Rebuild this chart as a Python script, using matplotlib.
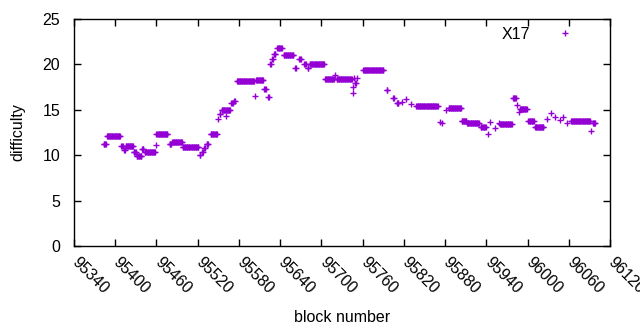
import numpy as np
import matplotlib
matplotlib.use("Agg")
import matplotlib.pyplot as plt
import matplotlib.transforms as mtransforms

# difficulty per block, stored as runs of equal value (first block, last block, value)
run_start = [95383, 95388, 95409, 95413, 95415, 95427, 95431, 95439, 95443, 95459,
             95460, 95479, 95483, 95498, 95523, 95526, 95529, 95533, 95539, 95550,
             95552, 95555, 95561, 95569, 95573, 95577, 95603, 95605, 95617, 95623,
             95625, 95628, 95631, 95636, 95645, 95662, 95668, 95675, 95680, 95683,
             95705, 95720, 95722, 95746, 95746, 95748, 95749, 95752, 95761, 95795,
             95804, 95810, 95817, 95823, 95830, 95838, 95873, 95876, 95882, 95885,
             95904, 95912, 95932, 95943, 95946, 95953, 95958, 95960, 95979, 95984,
             95988, 95989, 96001, 96011, 96028, 96034, 96040, 96047, 96052, 96058,
             96063, 96092, 96095]
run_end = [95386, 95407, 95411, 95414, 95426, 95430, 95438, 95441, 95458, 95459,
           95476, 95481, 95497, 95521, 95524, 95527, 95530, 95535, 95548, 95550,
           95553, 95567, 95561, 95571, 95574, 95602, 95603, 95615, 95619, 95624,
           95626, 95629, 95633, 95642, 95659, 95663, 95670, 95677, 95681, 95704,
           95718, 95720, 95744, 95746, 95746, 95748, 95750, 95752, 95790, 95796,
           95805, 95812, 95817, 95823, 95830, 95869, 95873, 95876, 95882, 95903,
           95911, 95929, 95939, 95943, 95946, 95953, 95958, 95977, 95983, 95984,
           95988, 95999, 96009, 96023, 96028, 96034, 96040, 96047, 96052, 96058,
           96091, 96092, 96098]
run_value = [11.2, 12.1, 11.0, 10.6, 11.0, 10.3, 9.9, 10.7, 10.35, 11.1,
             12.3, 11.2, 11.45, 10.9, 10.0, 10.3, 10.75, 11.2, 12.35, 13.95,
             14.5, 15.0, 14.3, 15.7, 15.95, 18.2, 16.5, 18.25, 17.25, 16.45,
             20.05, 20.55, 21.15, 21.8, 21.05, 19.6, 20.6, 20.0, 19.6, 20.05,
             18.35, 18.85, 18.35, 17.5, 16.8, 18.45, 17.9, 18.45, 19.4, 17.2,
             16.3, 15.7, 15.9, 16.15, 15.6, 15.42, 13.7, 13.5, 15.0, 15.16,
             13.75, 13.5, 13.15, 12.3, 13.7, 12.95, 13.5, 13.4, 16.25, 15.5,
             14.8, 15.05, 13.8, 13.15, 13.95, 14.6, 14.25, 13.9, 14.25, 13.5,
             13.75, 12.65, 13.5]

xticks = list(range(95340, 96121, 60))
yticks = [0, 5, 10, 15, 20, 25]

blocks = np.concatenate([np.arange(s, e + 1) for s, e in zip(run_start, run_end)])
diff = np.concatenate([np.full(e - s + 1, v) for s, e, v in zip(run_start, run_end, run_value)])

plt.rcParams["font.family"] = ["Liberation Sans", "DejaVu Sans"]
fs = 11.5

fig = plt.figure(figsize=(6.4, 3.3), dpi=100)
ax = fig.add_axes([74 / 640, 84 / 330, 536 / 640, 227 / 330])

ax.plot(blocks, diff, "+", color="#9400D3", markersize=5, markeredgewidth=1,
        linestyle="none", label="X17")

ax.set_xlim(95340, 96120)
ax.set_ylim(0, 25)
ax.set_xticks(xticks)
ax.set_yticks(yticks)
ax.set_xticklabels([str(t) for t in xticks], rotation=-45, ha="left", va="top",
                   rotation_mode="anchor", fontsize=fs)
ax.tick_params(axis="y", labelsize=fs, pad=10)
ax.tick_params(direction="in", top=True, right=True, length=5, width=1)
for s in ax.spines.values():
    s.set_linewidth(1)

# shift rotated x labels a bit right and down, like gnuplot
shift = mtransforms.ScaledTranslation(0.06, -0.04, fig.dpi_scale_trans)
for lab in ax.get_xticklabels():
    lab.set_transform(lab.get_transform() + shift)

ax.set_xlabel("block number", fontsize=fs, labelpad=9)
ax.set_ylabel("difficulty", fontsize=fs, labelpad=12)

ax.legend(loc="upper right", frameon=False, markerfirst=False, fontsize=fs,
          handlelength=1.5, handletextpad=1.45, borderaxespad=0.1,
          bbox_to_anchor=(0.953, 1.0))

fig.savefig("out.png", dpi=100)
